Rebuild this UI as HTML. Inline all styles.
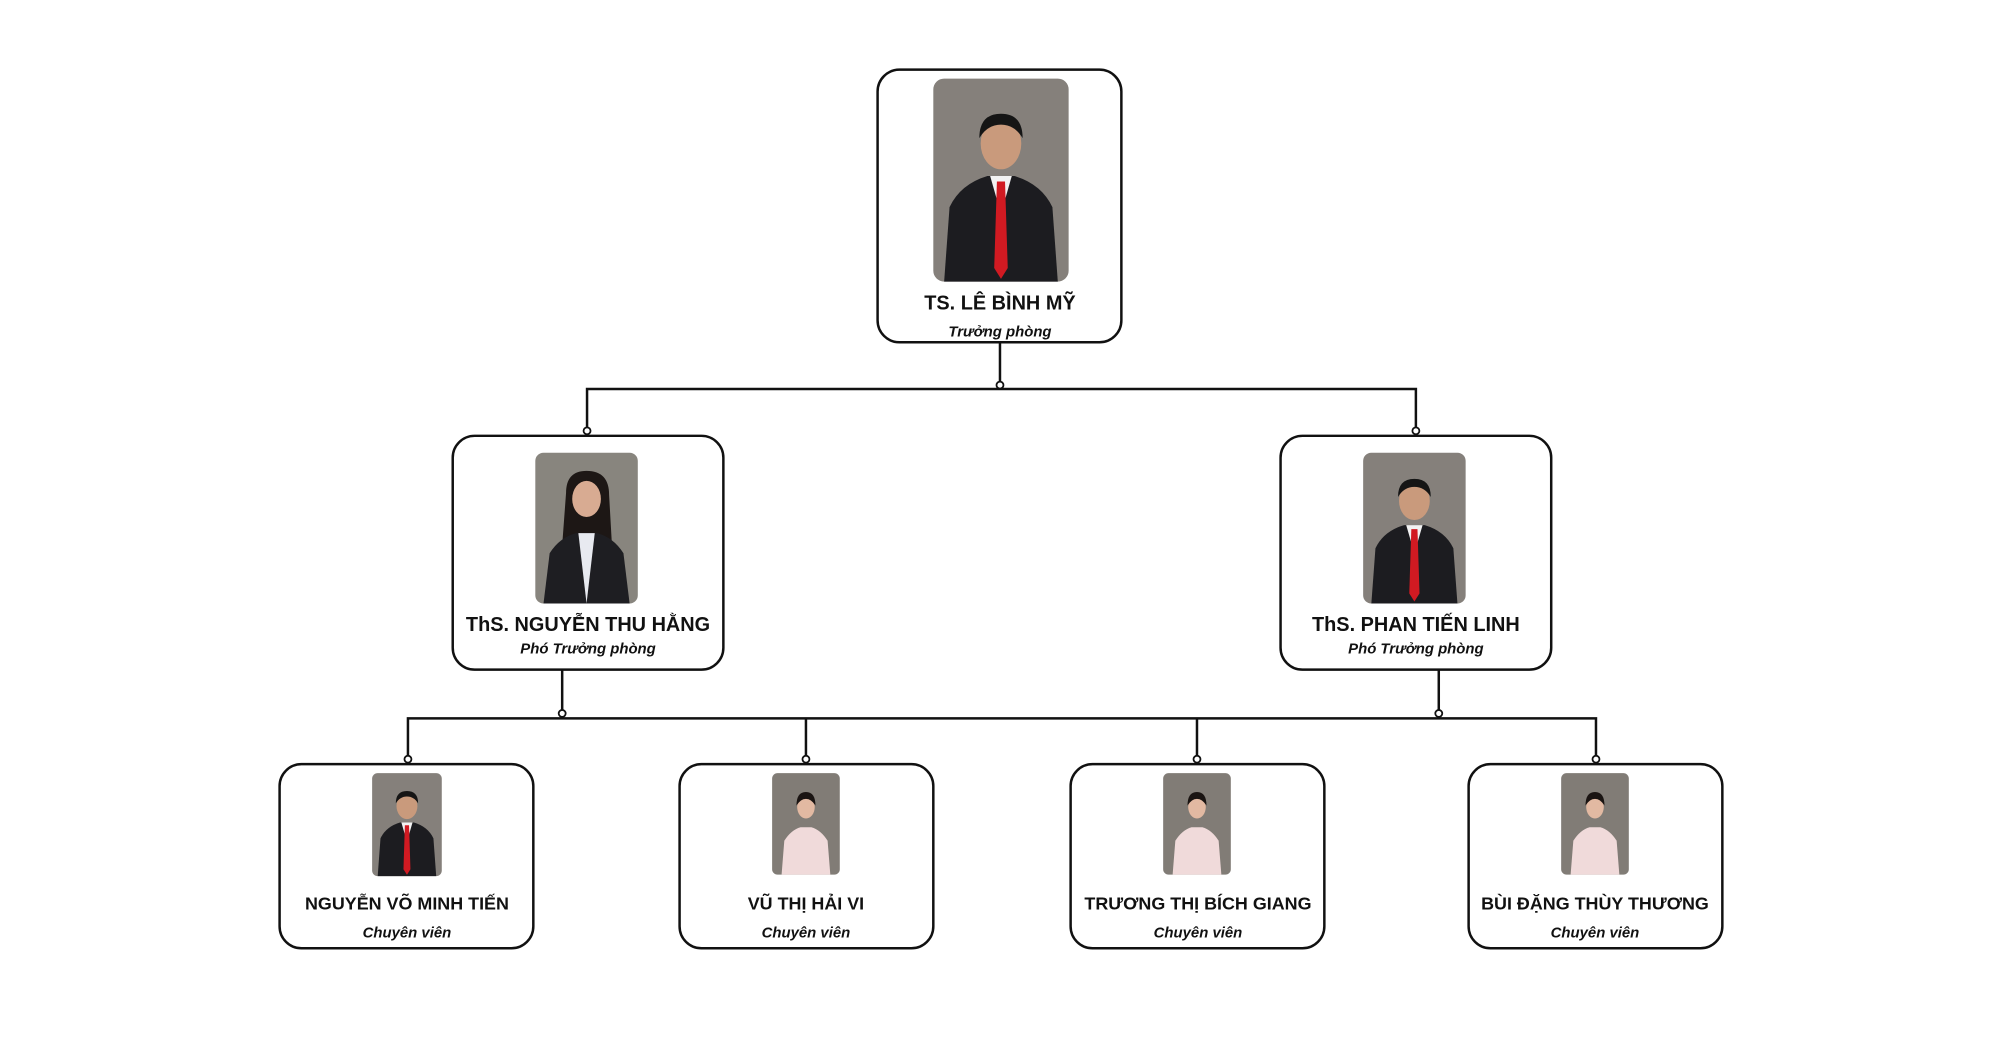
<!DOCTYPE html>
<html><head><meta charset="utf-8"><style>
html,body{margin:0;padding:0;background:#fff;}
body{width:2000px;height:1055px;overflow:hidden;}
text{font-family:"Liberation Sans",sans-serif;fill:#111;}
.n{font-weight:bold;}
.r{font-style:italic;font-weight:bold;font-size:15px;}
</style></head><body>
<svg width="2000" height="1055" viewBox="0 0 2010 1060.3" preserveAspectRatio="xMinYMin meet" xmlns="http://www.w3.org/2000/svg">
<defs>
<g id="man">
<rect x="0" y="0" width="100" height="150" rx="8" fill="#85807b"/>
<path d="M8 150 L12 95 Q20 78 40 72 L60 72 Q80 78 88 95 L92 150Z" fill="#1c1c20"/>
<path d="M42 72 L50 100 L58 72Z" fill="#f2f2f2"/>
<path d="M47 76 L53 76 L55 140 L50 148 L45 140Z" fill="#d11a22"/>
<ellipse cx="50" cy="48" rx="15" ry="19" fill="#c99a7c"/>
<path d="M34 44 Q34 26 50 26 Q66 26 66 44 Q60 34 50 34 Q40 34 34 44Z" fill="#151515"/>
</g>
<g id="woman">
<rect x="0" y="0" width="100" height="150" rx="8" fill="#88857e"/>
<path d="M30 40 Q30 18 50 18 Q72 18 72 42 L78 150 L22 150Z" fill="#1d1715"/>
<path d="M8 150 L14 100 Q24 84 40 80 L60 80 Q76 84 86 100 L92 150Z" fill="#1e1e22"/>
<path d="M42 80 L50 150 L58 80Z" fill="#e8eaf0"/>
<ellipse cx="50" cy="46" rx="14" ry="18" fill="#d8ab92"/>
</g>
<g id="ao">
<rect x="0" y="0" width="100" height="150" rx="8" fill="#817c76"/>
<path d="M14 150 L18 100 Q28 84 42 80 L58 80 Q72 84 82 100 L86 150Z" fill="#f0dada"/>
<ellipse cx="50" cy="50" rx="13" ry="17" fill="#e2b9a2"/>
<path d="M36 48 Q36 28 50 28 Q64 28 64 48 Q58 38 50 38 Q42 38 36 48Z" fill="#1a1412"/>
</g>
</defs>
<g fill="none" stroke="#111" stroke-width="2.5">
<path d="M1005 344 L1005 387 M590 433 L590 391 L1423 391 L1423 433"/>
<path d="M565 673 L565 717 M1446 673 L1446 717 M410 763 L410 722 L1604 722 L1604 763 M810 722 L810 763 M1203 722 L1203 763"/>
<rect x="882" y="70" width="245" height="274" rx="22"/>
<rect x="455" y="438" width="272" height="235" rx="22"/>
<rect x="1287" y="438" width="272" height="235" rx="22"/>
<rect x="281" y="768" width="255" height="185" rx="22"/>
<rect x="683" y="768" width="255" height="185" rx="22"/>
<rect x="1076" y="768" width="255" height="185" rx="22"/>
<rect x="1476" y="768" width="255" height="185" rx="22"/>
</g>
<g fill="#fff" stroke="#111" stroke-width="1.8">
<circle cx="1005" cy="387" r="3.5"/><circle cx="590" cy="433" r="3.5"/><circle cx="1423" cy="433" r="3.5"/>
<circle cx="565" cy="717" r="3.5"/><circle cx="1446" cy="717" r="3.5"/>
<circle cx="410" cy="763" r="3.5"/><circle cx="810" cy="763" r="3.5"/><circle cx="1203" cy="763" r="3.5"/><circle cx="1604" cy="763" r="3.5"/>
</g>
<use href="#man" transform="translate(938,79) scale(1.36,1.36)"/>
<use href="#woman" transform="translate(538,455) scale(1.03,1.01)"/>
<use href="#man" transform="translate(1370,455) scale(1.03,1.01)"/>
<use href="#man" transform="translate(374,777) scale(0.7,0.69)"/>
<use href="#ao" transform="translate(776,777) scale(0.68,0.68)"/>
<use href="#ao" transform="translate(1169,777) scale(0.68,0.68)"/>
<use href="#ao" transform="translate(1569,777) scale(0.68,0.68)"/>
<g text-anchor="middle">
<text class="n" x="1005" y="311" font-size="20">TS. LÊ BÌNH MỸ</text>
<text class="r" x="1005" y="338">Trưởng phòng</text>
<text class="n" x="591" y="634" font-size="20">ThS. NGUYỄN THU HẰNG</text>
<text class="r" x="591" y="657">Phó Trưởng phòng</text>
<text class="n" x="1423" y="634" font-size="20">ThS. PHAN TIẾN LINH</text>
<text class="r" x="1423" y="657">Phó Trưởng phòng</text>
<text class="n" x="409" y="914" font-size="18">NGUYỄN VÕ MINH TIẾN</text>
<text class="r" x="409" y="942">Chuyên viên</text>
<text class="n" x="810" y="914" font-size="18">VŨ THỊ HẢI VI</text>
<text class="r" x="810" y="942">Chuyên viên</text>
<text class="n" x="1204" y="914" font-size="18">TRƯƠNG THỊ BÍCH GIANG</text>
<text class="r" x="1204" y="942">Chuyên viên</text>
<text class="n" x="1603" y="914" font-size="18">BÙI ĐẶNG THÙY THƯƠNG</text>
<text class="r" x="1603" y="942">Chuyên viên</text>
</g>
</svg>
</body></html>
